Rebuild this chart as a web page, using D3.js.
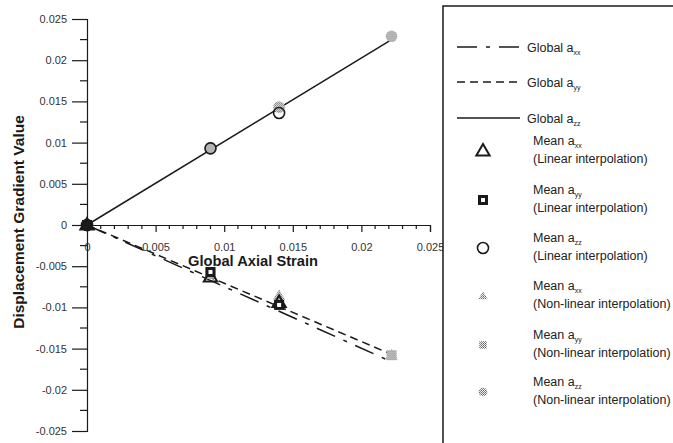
<!DOCTYPE html>
<html>
<head>
<meta charset="utf-8">
<script src="https://cdn.jsdelivr.net/npm/d3@7"></script>
<style>
  html, body { margin: 0; padding: 0; background: #fff; }
  svg { display: block; font-family: "Liberation Sans", Arial, sans-serif; }
</style>
</head>
<body>
<svg id="chart" width="673" height="443"></svg>
<script>
// Global (whole-specimen) fits, drawn as lines
const globalStrain = [0, 0.0222];
const globalXX = [0, -0.0166];
const globalYY = [0, -0.0157];
const globalZZ = [0, 0.0225];

// Mean gradients, linear interpolation
const linStrain = [0, 0.009, 0.014];
const meanXXLin = [0, -0.0063, -0.0094];
const meanYYLin = [0, -0.0057, -0.0097];
const meanZZLin = [0, 0.0093, 0.0136];

// Mean gradients, non-linear interpolation
const nonStrain = [0, 0.009, 0.014, 0.0222];
const meanXXNon = [0, -0.0060, -0.0086, -0.0158];
const meanYYNon = [0, -0.0058, -0.0096, -0.0158];
const meanZZNon = [0, 0.0094, 0.0143, 0.0229];

// Axis ticks
const xTicks = [0, 0.005, 0.01, 0.015, 0.02, 0.025];
const xTickLabels = ["0", "0.005", "0.01", "0.015", "0.02", "0.025"];
const yTicks = [0.025, 0.02, 0.015, 0.01, 0.005, 0, -0.005, -0.01, -0.015, -0.02, -0.025];
const yTickLabels = ["0.025", "0.02", "0.015", "0.01", "0.005", "0", "-0.005", "-0.01", "-0.015", "-0.02", "-0.025"];

const svg = d3.select("#chart");
const ink = "#1a1a1a";

const x = d3.scaleLinear().domain([0, 0.025]).range([87, 430]);
const y = d3.scaleLinear().domain([-0.025, 0.025]).range([431, 19]);

// Dithered grey fill for the non-linear markers
const defs = svg.append("defs");
const pat = defs.append("pattern").attr("id", "dither")
  .attr("width", 2).attr("height", 2).attr("patternUnits", "userSpaceOnUse");
pat.append("rect").attr("width", 2).attr("height", 2).attr("fill", "#ececec");
pat.append("rect").attr("width", 1).attr("height", 1).attr("fill", "#6a6a6a");
pat.append("rect").attr("x", 1).attr("y", 1).attr("width", 1).attr("height", 1).attr("fill", "#8a8a8a");

// Y axis
const yAxis = d3.axisLeft(y).tickValues(yTicks)
  .tickFormat((d, i) => yTickLabels[i]).tickSize(15).tickPadding(5);
const gy = svg.append("g").attr("transform", `translate(${x(0)},0)`).call(yAxis);
gy.select(".domain").attr("stroke", ink).attr("stroke-width", 1.2);
gy.selectAll(".tick line").attr("stroke", ink).attr("stroke-width", 1.2);
gy.selectAll(".tick text").attr("font-size", 11).attr("fill", "#333")
  .attr("font-family", "Liberation Sans, Arial, sans-serif");
const yMinor = d3.range(-0.0225, 0.025, 0.005);
gy.selectAll(".minor").data(yMinor).enter().append("line")
  .attr("x1", -7).attr("x2", 0).attr("y1", d => y(d)).attr("y2", d => y(d))
  .attr("stroke", ink).attr("stroke-width", 1.2);

// X axis along y = 0
const xAxis = d3.axisBottom(x).tickValues(xTicks)
  .tickFormat((d, i) => xTickLabels[i]).tickSize(7).tickPadding(11);
const gx = svg.append("g").attr("transform", `translate(0,${y(0)})`).call(xAxis);
gx.select(".domain").attr("stroke", ink).attr("stroke-width", 1.2);
gx.selectAll(".tick line").attr("stroke", ink).attr("stroke-width", 1.2);
gx.selectAll(".tick text").attr("font-size", 11).attr("fill", "#333")
  .attr("font-family", "Liberation Sans, Arial, sans-serif");
const xMinor = d3.range(0.001, 0.025, 0.001).filter(v => Math.abs(v / 0.005 - Math.round(v / 0.005)) > 1e-6);
gx.selectAll(".minor").data(xMinor).enter().append("line")
  .attr("x1", d => x(d)).attr("x2", d => x(d)).attr("y1", 0).attr("y2", 4)
  .attr("stroke", ink).attr("stroke-width", 1.2);

// Axis titles
svg.append("text").attr("x", 253).attr("y", 266).attr("text-anchor", "middle")
  .attr("font-size", 14.7).attr("font-weight", "bold").attr("fill", ink)
  .text("Global Axial Strain");
svg.append("text").attr("transform", "translate(24,222) rotate(-90)")
  .attr("text-anchor", "middle").attr("font-size", 15.5).attr("font-weight", "bold").attr("fill", ink)
  .text("Displacement Gradient Value");

// Global lines
const dashXX = "20,9,4,9";
const dashYY = "8,5";
const line = d3.line().x(d => x(d[0])).y(d => y(d[1]));
function drawGlobal(vals, dash) {
  svg.append("path").datum(globalStrain.map((s, i) => [s, vals[i]]))
    .attr("d", line).attr("fill", "none").attr("stroke", ink).attr("stroke-width", 1.5)
    .attr("stroke-dasharray", dash);
}
drawGlobal(globalXX, dashXX);
drawGlobal(globalYY, dashYY);
drawGlobal(globalZZ, null);

// Marker shapes; k shrinks only the dithered (non-linear) symbols
const triPath = r => `M0,${-r}L${r * 0.95},${r * 0.65}L${-r * 0.95},${r * 0.65}Z`;
function drawMarker(g, kind, filled, k = 1) {
  if (kind === "tri") {
    g.append("path").attr("d", triPath(filled ? 6.5 * k : 7))
      .attr("fill", filled ? "url(#dither)" : "none")
      .attr("stroke", filled ? "none" : ink).attr("stroke-width", 2);
  } else if (kind === "sq") {
    if (filled) {
      const h = 5 * k;
      g.append("rect").attr("x", -h).attr("y", -h).attr("width", 2 * h).attr("height", 2 * h)
        .attr("fill", "url(#dither)");
    } else {
      g.append("rect").attr("x", -3.5).attr("y", -3.5).attr("width", 7).attr("height", 7)
        .attr("fill", "#fff").attr("stroke", ink).attr("stroke-width", 3);
    }
  } else {
    if (filled) {
      g.append("circle").attr("r", 5.8 * k).attr("fill", "url(#dither)");
    } else {
      g.append("circle").attr("r", 5.5).attr("fill", "none").attr("stroke", ink).attr("stroke-width", 1.6);
    }
  }
}
function drawSeries(strain, vals, kind, filled) {
  strain.forEach((s, i) => {
    const g = svg.append("g").attr("transform", `translate(${x(s)},${y(vals[i])})`);
    drawMarker(g, kind, filled);
  });
}
drawSeries(nonStrain, meanXXNon, "tri", true);
drawSeries(nonStrain, meanYYNon, "sq", true);
drawSeries(nonStrain, meanZZNon, "circ", true);
drawSeries(linStrain, meanXXLin, "tri", false);
drawSeries(linStrain, meanYYLin, "sq", false);
drawSeries(linStrain, meanZZLin, "circ", false);
// overlapping markers at the origin read as a solid blob
svg.append("circle").attr("cx", x(0)).attr("cy", y(0)).attr("r", 5.5).attr("fill", ink);

// Legend
const lg = svg.append("g");
lg.append("rect").attr("x", 443).attr("y", 6).attr("width", 260).attr("height", 460)
  .attr("fill", "#fff").attr("stroke", ink).attr("stroke-width", 1.5);

const lineEntries = [
  { label: "Global a", sub: "xx", dash: dashXX, y: 47 },
  { label: "Global a", sub: "yy", dash: dashYY, y: 82 },
  { label: "Global a", sub: "zz", dash: null, y: 118 }
];
lineEntries.forEach(e => {
  lg.append("line").attr("x1", 457).attr("x2", 520).attr("y1", e.y).attr("y2", e.y)
    .attr("stroke", ink).attr("stroke-width", 1.5).attr("stroke-dasharray", e.dash);
  const t = lg.append("text").attr("x", 527).attr("y", e.y + 4.5).attr("font-size", 12.5).attr("fill", "#222");
  t.append("tspan").text(e.label);
  t.append("tspan").attr("font-size", 7).attr("dy", 3).text(e.sub);
});

const markerEntries = [
  { sub: "xx", note: "(Linear interpolation)", kind: "tri", filled: false, y: 151 },
  { sub: "yy", note: "(Linear interpolation)", kind: "sq", filled: false, y: 200 },
  { sub: "zz", note: "(Linear interpolation)", kind: "circ", filled: false, y: 248 },
  { sub: "xx", note: "(Non-linear interpolation)", kind: "tri", filled: true, y: 296 },
  { sub: "yy", note: "(Non-linear interpolation)", kind: "sq", filled: true, y: 345 },
  { sub: "zz", note: "(Non-linear interpolation)", kind: "circ", filled: true, y: 392 }
];
markerEntries.forEach(e => {
  const g = lg.append("g").attr("transform", `translate(483,${e.y})`);
  drawMarker(g, e.kind, e.filled, 0.75);
  const t = lg.append("text").attr("x", 533).attr("y", e.y - 6).attr("font-size", 12.5).attr("fill", "#222");
  t.append("tspan").text("Mean a");
  t.append("tspan").attr("font-size", 7).attr("dy", 3).text(e.sub);
  lg.append("text").attr("x", 533).attr("y", e.y + 12).attr("font-size", 12.5).attr("fill", "#222")
    .text(e.note);
});
</script>
</body>
</html>
